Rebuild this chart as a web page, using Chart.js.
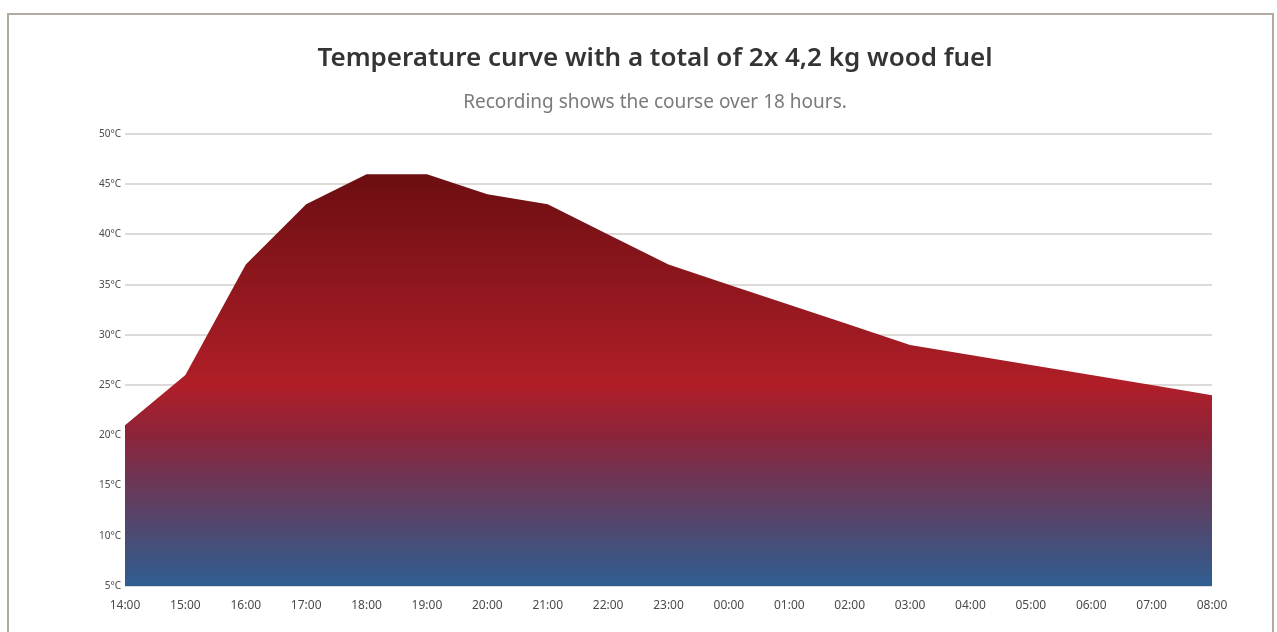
<!DOCTYPE html>
<html>
<head>
<meta charset="utf-8">
<script src="https://cdn.jsdelivr.net/npm/chart.js@4.4.1/dist/chart.umd.min.js"></script>
<style>
  body { margin: 0; background: #fff; overflow: hidden; }
  #frame { position: absolute; left: 7px; top: 13px; width: 1263px; height: 640px; border: 2px solid #b3aaa2; }
  #wrap { position: absolute; left: 0; top: 0; width: 1277px; height: 632px; }
</style>
</head>
<body>
<div id="frame"></div>
<div id="wrap"><canvas id="tempChart" width="1277" height="632"></canvas></div>
<script>
// Stunden der Aufzeichnung
const hours = ["14:00", "15:00", "16:00", "17:00", "18:00", "19:00", "20:00", "21:00", "22:00", "23:00",
  "00:00", "01:00", "02:00", "03:00", "04:00", "05:00", "06:00", "07:00", "08:00"];
// Temperatur in °C
const temps = [21, 26, 37, 43, 46, 46, 44, 43, 40, 37, 35, 33, 31, 29, 28, 27, 26, 25, 24];
const yMin = 5;
const yMax = 50;
const yStep = 5;

// Farbverlauf: Wert -> Farbe
const gradStops = [[46, "#6c0e11"], [35, "#8f171e"], [25, "#b01e27"], [20, "#8c243a"], [15, "#6a3858"], [10, "#4b4b74"], [5, "#2f5e92"]];

function fillGradient(ctx) {
  const chart = ctx.chart;
  const area = chart.chartArea;
  if (!area) return "#a01c24";
  const y = chart.scales.y;
  const top = y.getPixelForValue(gradStops[0][0]);
  const bottom = y.getPixelForValue(gradStops[gradStops.length - 1][0]);
  const g = chart.ctx.createLinearGradient(0, top, 0, bottom);
  gradStops.forEach(s => {
    const p = (y.getPixelForValue(s[0]) - top) / (bottom - top);
    g.addColorStop(Math.min(1, Math.max(0, p)), s[1]);
  });
  return g;
}

new Chart(document.getElementById("tempChart"), {
  type: "line",
  data: {
    labels: hours,
    datasets: [{
      data: temps,
      fill: "start",
      backgroundColor: fillGradient,
      borderWidth: 0,
      pointRadius: 0,
      tension: 0
    }]
  },
  options: {
    responsive: false,
    devicePixelRatio: 1,
    animation: false,
    layout: { padding: { left: 98, right: 65, top: 0, bottom: 18 } },
    plugins: {
      legend: { display: false },
      tooltip: { enabled: false },
      title: {
        display: true,
        text: "Temperature curve with a total of 2x 4,2 kg wood fuel",
        color: "#343434",
        font: { family: "'Noto Sans'", size: 26, weight: "600" },
        padding: { top: 43, bottom: 17 }
      },
      subtitle: {
        display: true,
        text: "Recording shows the course over 18 hours.",
        color: "#7a7a7a",
        font: { family: "'Noto Sans'", size: 19 },
        padding: { top: 0, bottom: 20 }
      }
    },
    scales: {
      x: {
        grid: { display: false, drawTicks: false },
        border: { display: false },
        ticks: { color: "#4a4a4a", font: { family: "'Noto Sans'", size: 12 }, padding: 12, maxRotation: 0, autoSkip: false },
        afterFit: s => { s.height = 28; }
      },
      y: {
        min: yMin,
        max: yMax,
        grid: { color: "#dedad8", lineWidth: 2, drawTicks: false },
        border: { display: false },
        ticks: {
          stepSize: yStep,
          color: "#4a4a4a",
          font: { family: "'Noto Sans'", size: 10 },
          padding: 4,
          callback: v => v + "°C"
        },
        afterFit: s => { s.width = 27; }
      }
    }
  }
});
</script>
</body>
</html>
